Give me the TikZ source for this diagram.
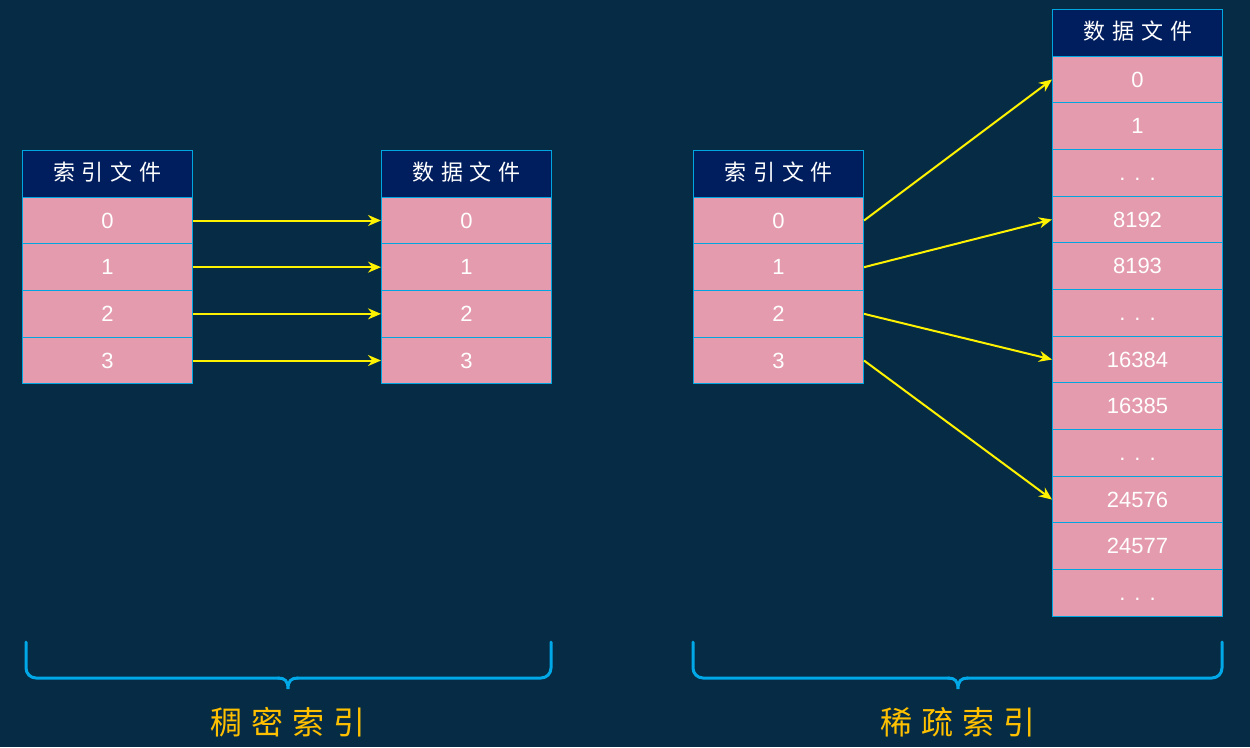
\documentclass[tikz,border=0pt]{standalone}
\usepackage{fontspec}
\setmainfont{Liberation Sans}
\newfontfamily\cjk{Noto Sans CJK SC}
\usetikzlibrary{arrows.meta}
\definecolor{bgc}{HTML}{062C45}
\definecolor{headc}{HTML}{001E5E}
\definecolor{pinkc}{HTML}{E39BAD}
\definecolor{cyanb}{HTML}{00A6E0}
\definecolor{bracec}{HTML}{00A8E8}
\definecolor{goldc}{HTML}{FFC000}
\newcommand{\dd}{.\hspace{9pt}.\hspace{9pt}.}
\newcommand{\sx}{\hspace{7pt}}
\newcommand{\lx}{\hspace{9pt}}
\begin{document}
\begin{tikzpicture}[x=1pt,y=-1pt,
  cell/.style={draw=cyanb, line width=1pt, fill=pinkc, minimum width=170pt, minimum height=46.67pt, inner sep=0pt, text=white, text height=15pt, text depth=0pt, font=\fontsize{22}{26}\selectfont, anchor=north west},
  head/.style={cell, fill=headc, text height=17pt, text depth=3pt, font=\cjk\fontsize{22}{26}\selectfont},
  arr/.style={draw=yellow, line width=2pt, -{Stealth[length=13pt,width=11pt]}},
  brace/.style={draw=bracec, line width=3pt, line cap=round},
  lab/.style={text=goldc, font=\cjk\fontsize{32}{36}\selectfont, inner sep=0pt}]
\fill[bgc] (0,0) rectangle (1250,747);
\useasboundingbox (0,0) rectangle (1250,747);
% dense index
\node[head] (Lh) at (22,150) {索\sx 引\sx 文\sx 件};
\foreach \t [count=\i from 0] in {0,1,2,3}
  \node[cell] (L\i) at (22,196.67+46.67*\i) {\t};
\node[head] (Dh) at (381,150) {数\sx 据\sx 文\sx 件};
\foreach \t [count=\i from 0] in {0,1,2,3}
  \node[cell] (D\i) at (381,196.67+46.67*\i) {\t};
\foreach \i in {0,1,2,3}
  \draw[arr] (L\i.east) -- (D\i.west);
% sparse index
\node[head] (Rh) at (693,150) {索\sx 引\sx 文\sx 件};
\foreach \t [count=\i from 0] in {0,1,2,3}
  \node[cell] (R\i) at (693,196.67+46.67*\i) {\t};
\node[head] (Sh) at (1052,9) {数\sx 据\sx 文\sx 件};
\foreach \t [count=\i from 0] in {0,1,\dd,8192,8193,\dd,16384,16385,\dd,24576,24577,\dd}
  \node[cell] (S\i) at (1052,55.67+46.67*\i) {\t};
\draw[arr] (R0.east) -- (S0.west);
\draw[arr] (R1.east) -- (S3.west);
\draw[arr] (R2.east) -- (S6.west);
\draw[arr] (R3.east) -- (S9.west);
% braces
\draw[brace, rounded corners=10pt] (26,642) -- (26,678) -- (279,678);
\draw[brace] (278,678) .. controls (285,678) and (288,681) .. (288,689) .. controls (288,681) and (291,678) .. (298,678);
\draw[brace, rounded corners=10pt] (297,678) -- (551,678) -- (551,642);
\draw[brace, rounded corners=10pt] (693,642) -- (693,678) -- (949,678);
\draw[brace] (948,678) .. controls (955,678) and (958,681) .. (958,689) .. controls (958,681) and (961,678) .. (968,678);
\draw[brace, rounded corners=10pt] (967,678) -- (1222,678) -- (1222,642);
\node[lab] (t1) at (288,722) {稠\lx 密\lx 索\lx 引};
\node[lab] (t2) at (958,722) {稀\lx 疏\lx 索\lx 引};
\end{tikzpicture}
\end{document}
